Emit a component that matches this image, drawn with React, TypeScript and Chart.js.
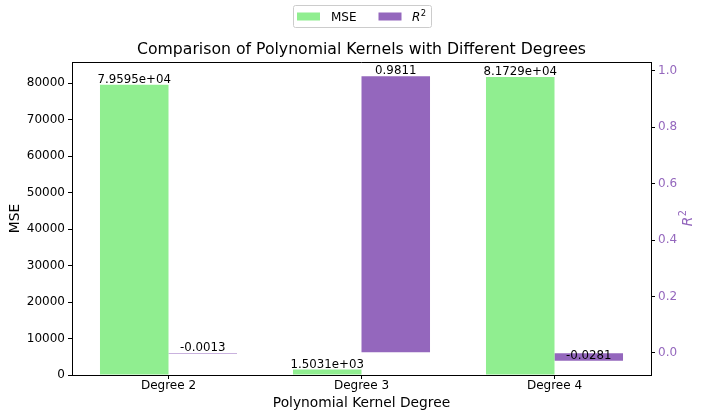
import React, { useEffect, useRef } from "react";
import { Chart, registerables } from "chart.js";

Chart.register(...registerables);

const CATEGORIES = ["Degree 2", "Degree 3", "Degree 4"];
const MSE_VALUES = [79595, 1503.1, 81729];
const R2_VALUES = [-0.0013, 0.9811, -0.0281];
const MSE_TICKS = [0, 10000, 20000, 30000, 40000, 50000, 60000, 70000, 80000];
const R2_TICKS = [0, 0.2, 0.4, 0.6, 0.8, 1.0];
const MSE_RANGE = [0, 85815];
const R2_RANGE = [-0.0786, 1.0316];

const TITLE = "Comparison of Polynomial Kernels with Different Degrees";
const X_TITLE = "Polynomial Kernel Degree";
const Y_TITLE = "MSE";

const GREEN = "#90ee90";
const PURPLE = "#9467bd";
const FONT = "'DejaVu Sans', sans-serif";
const TICK_SIZE = 12;
const LABEL_SIZE = 11.8;
const AXIS_TITLE_SIZE = 13.8;

function fmtMSE(v: number): string {
  return v.toExponential(4).replace(/e([+-])(\d)$/, "e$10$2");
}
function fmtR2(v: number): string {
  return v.toFixed(4);
}

function drawR2(ctx: CanvasRenderingContext2D, x: number, y: number, size: number, color: string) {
  ctx.save();
  ctx.fillStyle = color;
  ctx.textAlign = "left";
  ctx.textBaseline = "alphabetic";
  ctx.font = `italic ${size}px ${FONT}`;
  ctx.fillText("R", x, y);
  const w = ctx.measureText("R").width;
  ctx.font = `${size * 0.7}px ${FONT}`;
  ctx.fillText("2", x + w + 0.5, y - size * 0.42);
  ctx.restore();
}

const overlayPlugin = {
  id: "overlay",
  afterDraw(chart: any) {
    const ctx: CanvasRenderingContext2D = chart.ctx;
    const area = chart.chartArea;
    ctx.save();
    ctx.strokeStyle = "#000";
    ctx.lineWidth = 1;
    ctx.beginPath();
    ctx.moveTo(area.left, area.top + 0.5);
    ctx.lineTo(area.right, area.top + 0.5);
    ctx.stroke();

    ctx.fillStyle = "#000";
    ctx.font = `15.7px ${FONT}`;
    ctx.textAlign = "center";
    ctx.textBaseline = "alphabetic";
    ctx.fillText(TITLE, (area.left + area.right) / 2, 54);

    ctx.font = `${LABEL_SIZE}px ${FONT}`;
    chart.data.datasets.forEach((ds: any, di: number) => {
      const meta = chart.getDatasetMeta(di);
      const scale = chart.scales[ds.yAxisID];
      meta.data.forEach((el: any, i: number) => {
        const v = ds.data[i];
        const txt = di === 0 ? fmtMSE(v) : fmtR2(v);
        const y = scale.getPixelForValue(v);
        ctx.fillStyle = "#000";
        ctx.textAlign = "center";
        ctx.textBaseline = "alphabetic";
        ctx.fillText(txt, el.x, y - 2);
      });
    });

    ctx.save();
    ctx.translate(692, (area.top + area.bottom) / 2);
    ctx.rotate(-Math.PI / 2);
    ctx.font = `italic ${AXIS_TITLE_SIZE}px ${FONT}`;
    const rw = ctx.measureText("R").width;
    ctx.font = `${AXIS_TITLE_SIZE * 0.7}px ${FONT}`;
    const sw = ctx.measureText("2").width;
    drawR2(ctx, -(rw + sw) / 2, 0, AXIS_TITLE_SIZE, PURPLE);
    ctx.restore();

    const bx = 293.5, by = 5.5, bw = 138, bh = 22;
    ctx.fillStyle = "rgba(255,255,255,0.8)";
    ctx.strokeStyle = "#cccccc";
    ctx.lineWidth = 1;
    ctx.beginPath();
    (ctx as any).roundRect(bx, by, bw, bh, 2);
    ctx.fill();
    ctx.stroke();
    ctx.fillStyle = GREEN;
    ctx.fillRect(297, 12.5, 23, 8);
    ctx.fillStyle = PURPLE;
    ctx.fillRect(378.5, 12.5, 23, 8);
    ctx.fillStyle = "#000";
    ctx.font = `12px ${FONT}`;
    ctx.textAlign = "left";
    ctx.textBaseline = "alphabetic";
    ctx.fillText("MSE", 331, 21);
    drawR2(ctx, 412, 21, 12, "#000");
    ctx.restore();
  },
};

export default function App() {
  const ref = useRef<HTMLCanvasElement | null>(null);
  useEffect(() => {
    if (!ref.current) return;
    const chart = new Chart(ref.current, {
      type: "bar",
      data: {
        labels: CATEGORIES,
        datasets: [
          {
            label: "MSE",
            data: MSE_VALUES,
            backgroundColor: GREEN,
            borderWidth: 0,
            yAxisID: "y",
            categoryPercentage: 0.71,
            barPercentage: 1.0,
          },
          {
            label: "R2",
            data: R2_VALUES,
            backgroundColor: PURPLE,
            borderWidth: 0,
            yAxisID: "y2",
            categoryPercentage: 0.71,
            barPercentage: 1.0,
            minBarLength: 1,
          },
        ],
      },
      options: {
        animation: false,
        responsive: false,
        devicePixelRatio: 1,
        layout: { padding: { top: 62, left: 0, right: 0, bottom: 0 } },
        plugins: {
          legend: { display: false },
          tooltip: { enabled: false },
          title: { display: false },
        },
        scales: {
          x: {
            type: "category",
            offset: true,
            grid: {
              offset: false,
              drawOnChartArea: false,
              drawTicks: true,
              tickLength: 4,
              tickColor: "#000",
            },
            border: { display: true, color: "#000", width: 1 },
            ticks: {
              color: "#000",
              padding: 0,
              font: { family: FONT, size: TICK_SIZE },
              maxRotation: 0,
            },
            title: {
              display: true,
              text: X_TITLE,
              color: "#000",
              font: { family: FONT, size: AXIS_TITLE_SIZE },
              padding: { top: 0, bottom: 2 },
            },
            afterFit(scale: any) {
              scale.height = 39;
            },
          } as any,
          y: {
            type: "linear",
            position: "left",
            min: MSE_RANGE[0],
            max: MSE_RANGE[1],
            afterBuildTicks(scale: any) {
              scale.ticks = MSE_TICKS.map((v) => ({ value: v }));
            },
            grid: {
              drawOnChartArea: false,
              drawTicks: true,
              tickLength: 4,
              tickColor: "#000",
            },
            border: { display: true, color: "#000", width: 1 },
            ticks: {
              color: "#000",
              padding: 3,
              font: { family: FONT, size: TICK_SIZE },
              callback: (v: any) => String(v),
            },
            title: {
              display: true,
              text: Y_TITLE,
              color: "#000",
              font: { family: FONT, size: AXIS_TITLE_SIZE },
              padding: { top: 7, bottom: 0 },
            },
            afterFit(scale: any) {
              scale.width = 72;
            },
          } as any,
          y2: {
            type: "linear",
            position: "right",
            min: R2_RANGE[0],
            max: R2_RANGE[1],
            afterBuildTicks(scale: any) {
              scale.ticks = R2_TICKS.map((v) => ({ value: v }));
            },
            grid: {
              drawOnChartArea: false,
              drawTicks: true,
              tickLength: 4,
              tickColor: "#000",
            },
            border: { display: true, color: "#000", width: 1 },
            ticks: {
              color: PURPLE,
              padding: 3,
              font: { family: FONT, size: TICK_SIZE },
              callback: (v: any) => Number(v).toFixed(1),
            },
            title: { display: false },
            afterFit(scale: any) {
              scale.width = 55;
            },
          } as any,
        },
      },
      plugins: [overlayPlugin],
    });
    return () => chart.destroy();
  }, []);
  return (
    <div style={{ position: "absolute", left: 0, top: 0, width: 706, height: 414, background: "#fff" }}>
      <canvas ref={ref} width={706} height={414} />
    </div>
  );
}
